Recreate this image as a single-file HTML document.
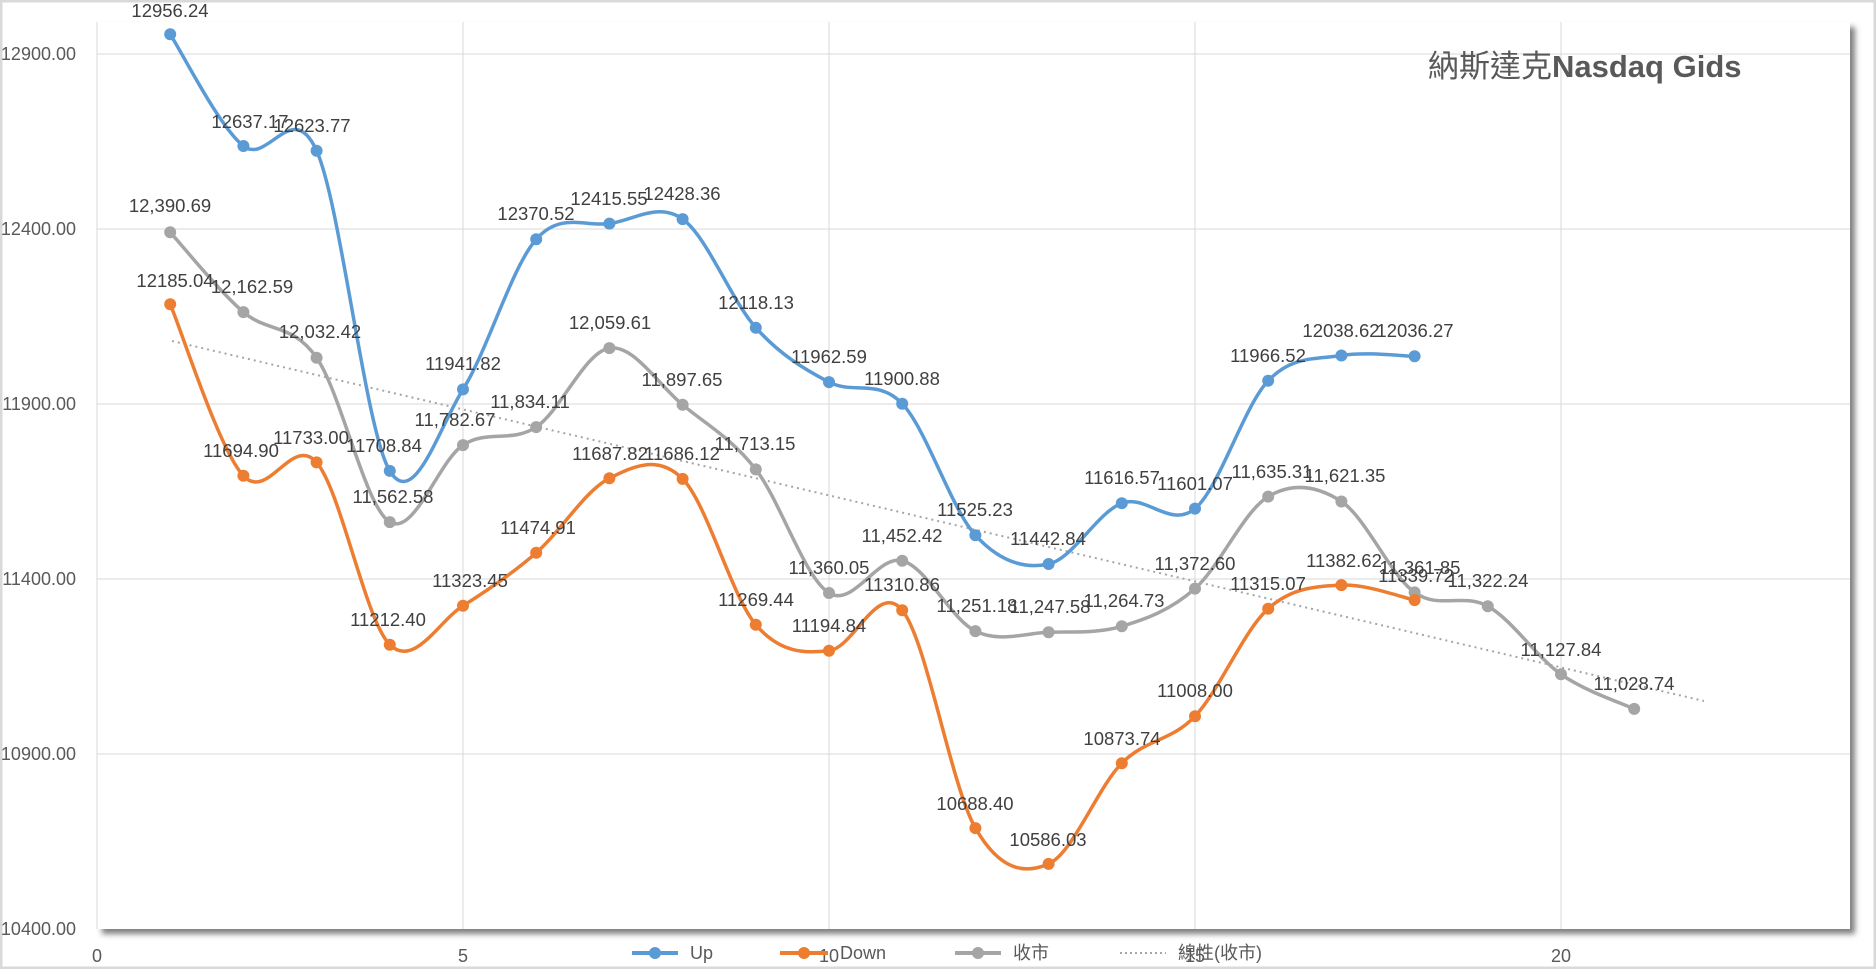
<!DOCTYPE html>
<html><head><meta charset="utf-8"><style>
html,body{margin:0;padding:0;background:#fff;}
body{width:1876px;height:969px;overflow:hidden;}
svg text{font-family:"Liberation Sans","Noto Sans CJK TC",sans-serif;}
</style></head><body>
<svg id="s" width="1876" height="969" xmlns="http://www.w3.org/2000/svg">
<defs>
<filter id="sh" x="-5%" y="-5%" width="110%" height="110%"><feDropShadow dx="5" dy="5" stdDeviation="3" flood-color="#000" flood-opacity="0.5"/></filter>
</defs>
<rect x="1" y="1" width="1874" height="967" fill="#fff" stroke="#d9d9d9" stroke-width="3"/>
<rect x="97" y="22" width="1753" height="907" fill="#fff" filter="url(#sh)"/>
<g stroke="#d9d9d9" stroke-width="1">
<line x1="97" y1="54" x2="1850" y2="54"/><line x1="97" y1="229" x2="1850" y2="229"/>
<line x1="97" y1="404" x2="1850" y2="404"/><line x1="97" y1="579" x2="1850" y2="579"/>
<line x1="97" y1="754" x2="1850" y2="754"/>
<line x1="97" y1="22" x2="97" y2="929"/><line x1="463" y1="22" x2="463" y2="929"/>
<line x1="829" y1="22" x2="829" y2="929"/><line x1="1195" y1="22" x2="1195" y2="929"/>
<line x1="1561" y1="22" x2="1561" y2="929"/>
</g>
<g fill="#595959" font-size="18" text-anchor="end">
<text x="76" y="60">12900.00</text><text x="76" y="235">12400.00</text>
<text x="76" y="410">11900.00</text><text x="76" y="585">11400.00</text>
<text x="76" y="760">10900.00</text><text x="76" y="935">10400.00</text>
</g>
<g fill="#595959" font-size="18" text-anchor="middle">
<text x="97" y="962">0</text><text x="463" y="962">5</text><text x="829" y="962">10</text>
<text x="1195" y="962">15</text><text x="1561" y="962">20</text>
</g>
<text x="1428" y="77" font-size="31" fill="#595959">納斯達克<tspan font-weight="bold">Nasdaq Gids</tspan></text>
<line x1="172" y1="341" x2="1704" y2="701" stroke="#a5a5a5" stroke-width="2" stroke-dasharray="2,4"/>
<g id="series"></g>
<g fill="#404040" font-size="18.5" text-anchor="middle">
<text x="170" y="17">12956.24</text><text x="250" y="128">12637.17</text><text x="312" y="132">12623.77</text>
<text x="384" y="452">11708.84</text><text x="463" y="370">11941.82</text><text x="536" y="220">12370.52</text>
<text x="609" y="205">12415.55</text><text x="682" y="200">12428.36</text><text x="756" y="309">12118.13</text>
<text x="829" y="363">11962.59</text><text x="902" y="385">11900.88</text><text x="975" y="516">11525.23</text>
<text x="1048" y="545">11442.84</text><text x="1122" y="484">11616.57</text><text x="1195" y="490">11601.07</text>
<text x="1268" y="362">11966.52</text><text x="1341" y="337">12038.62</text><text x="1415" y="337">12036.27</text>

<text x="175" y="287">12185.04</text><text x="241" y="457">11694.90</text><text x="311" y="444">11733.00</text>
<text x="388" y="626">11212.40</text><text x="470" y="587">11323.45</text><text x="538" y="534">11474.91</text>
<text x="610" y="460">11687.82</text><text x="682" y="460">11686.12</text><text x="756" y="606">11269.44</text>
<text x="829" y="632">11194.84</text><text x="902" y="591">11310.86</text><text x="975" y="810">10688.40</text>
<text x="1048" y="846">10586.03</text><text x="1122" y="745">10873.74</text><text x="1195" y="697">11008.00</text>
<text x="1268" y="590">11315.07</text><text x="1344" y="567">11382.62</text><text x="1416" y="582">11339.72</text>

<text x="170" y="212">12,390.69</text><text x="252" y="293">12,162.59</text><text x="320" y="338">12,032.42</text>
<text x="393" y="503">11,562.58</text><text x="455" y="426">11,782.67</text><text x="530" y="408">11,834.11</text>
<text x="610" y="329">12,059.61</text><text x="682" y="386">11,897.65</text><text x="755" y="450">11,713.15</text>
<text x="829" y="574">11,360.05</text><text x="902" y="542">11,452.42</text><text x="977" y="612">11,251.18</text>
<text x="1050" y="613">11,247.58</text><text x="1124" y="607">11,264.73</text><text x="1195" y="570">11,372.60</text>
<text x="1272" y="478">11,635.31</text><text x="1345" y="482">11,621.35</text><text x="1420" y="574">11,361.85</text>
<text x="1488" y="587">11,322.24</text><text x="1561" y="656">11,127.84</text><text x="1634" y="690">11,028.74</text>
</g>
<g font-size="18" fill="#595959">
<line x1="632" y1="953" x2="678" y2="953" stroke="#5b9bd5" stroke-width="4"/><circle cx="655" cy="953" r="6" fill="#5b9bd5"/>
<text x="690" y="959">Up</text>
<line x1="780" y1="953" x2="828" y2="953" stroke="#ed7d31" stroke-width="4"/><circle cx="804" cy="953" r="6" fill="#ed7d31"/>
<text x="840" y="959">Down</text>
<line x1="955" y1="953" x2="1001" y2="953" stroke="#a5a5a5" stroke-width="4"/><circle cx="978" cy="953" r="6" fill="#a5a5a5"/>
<text x="1013" y="959">收市</text>
<line x1="1120" y1="953" x2="1166" y2="953" stroke="#a5a5a5" stroke-width="2" stroke-dasharray="2,3"/>
<text x="1178" y="959">線性(收市)</text>
</g>
</svg>
<script>
var X=function(u){return 97+73.2*u;};
var up=[34.3,146.0,150.7,470.9,389.4,239.3,223.6,219.1,327.7,382.1,403.7,535.2,564.0,503.2,508.6,380.7,355.5,356.3];
var dn=[304.2,475.8,462.4,644.7,605.8,552.8,478.3,478.9,624.7,650.8,610.2,828.1,863.9,763.2,716.2,608.7,585.1,600.1];
var cl=[232.3,312.1,357.7,522.1,445.1,427.1,348.1,404.8,469.4,593.0,560.7,631.1,632.3,626.3,588.6,496.6,501.5,592.4,606.2,674.3,708.9];
function path(ys){var p=ys.map(function(y,i){return [X(i+1),y];});var d="M"+p[0][0]+","+p[0][1];
for(var i=0;i<p.length-1;i++){var p0=p[i-1]||p[i],p1=p[i],p2=p[i+1],p3=p[i+2]||p2,t=6;
d+=" C"+(p1[0]+(p2[0]-p0[0])/t)+","+(p1[1]+(p2[1]-p0[1])/t)+" "+(p2[0]-(p3[0]-p1[0])/t)+","+(p2[1]-(p3[1]-p1[1])/t)+" "+p2[0]+","+p2[1];}
return d;}
var g=document.getElementById("series"),ns="http://www.w3.org/2000/svg";
[[cl,"#a5a5a5"],[dn,"#ed7d31"],[up,"#5b9bd5"]].forEach(function(s){
var pa=document.createElementNS(ns,"path");pa.setAttribute("d",path(s[0]));pa.setAttribute("fill","none");pa.setAttribute("stroke",s[1]);pa.setAttribute("stroke-width","3.5");g.appendChild(pa);
s[0].forEach(function(y,i){var c=document.createElementNS(ns,"circle");c.setAttribute("cx",X(i+1));c.setAttribute("cy",y);c.setAttribute("r","6");c.setAttribute("fill",s[1]);g.appendChild(c);});});
</script>
</body></html>
